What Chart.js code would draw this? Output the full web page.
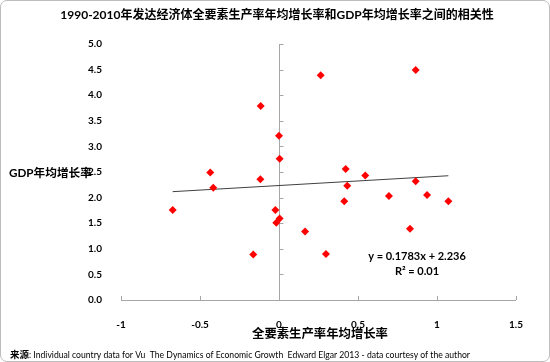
<!DOCTYPE html>
<html>
<head>
<meta charset="utf-8">
<script src="https://cdn.jsdelivr.net/npm/chart.js@4.4.1/dist/chart.umd.min.js"></script>
<style>
  body { margin: 0; background: #fff; }
  #wrap { position: relative; width: 550px; height: 362px; }
  #frame { position: absolute; left: 0; top: 0; width: 550px; height: 362px; box-sizing: border-box;
           border: 1px solid #bdbdbd; border-radius: 7px; pointer-events: none; }
</style>
</head>
<body>
<div id="wrap">
  <canvas id="myChart" width="550" height="362"></canvas>
  <div id="frame"></div>
</div>
<script>
// TFP growth (x) vs GDP growth (y), developed economies 1990-2010
var tfpGrowth = [-0.116, 0.0, 0.004, 0.264, 0.865, -0.673, -0.435, -0.416, -0.118, -0.023, -0.017, 0.004,
                 -0.163, 0.165, 0.297, 0.422, 0.432, 0.413, 0.546, 0.696, 0.865, 0.937, 1.072, 0.829];
var gdpGrowth = [3.79, 3.21, 2.76, 4.39, 4.49, 1.76, 2.49, 2.19, 2.36, 1.76, 1.51, 1.59,
                 0.89, 1.34, 0.90, 2.56, 2.23, 1.93, 2.43, 2.03, 2.32, 2.05, 1.93, 1.39];

// linear trend line end points
var trendX = [-0.673, 1.072];
var trendY = [2.116, 2.427];

var xTickLabels = ['-1', '-0.5', '0', '0.5', '1', '1.5'];
var yTickLabels = ['0.0', '0.5', '1.0', '1.5', '2.0', '2.5', '3.0', '3.5', '4.0', '4.5', '5.0'];

var titleText = '1990-2010年发达经济体全要素生产率年均增长率和GDP年均增长率之间的相关性';
var xTitle = '全要素生产率年均增长率';
var yTitle = 'GDP年均增长率';
var eqText = 'y = 0.1783x + 2.236';
var r2Text = 'R² = 0.01';
var sourceLead = '来源';
var sourceText = ': Individual country data for Vu  The Dynamics of Economic Growth  Edward Elgar 2013 - data courtesy of the author';

var fontFam = "Lato, 'Noto Sans CJK SC', sans-serif";
var axisGrey = '#a6a6a6';

var points = tfpGrowth.map(function(x, i) { return {x: x, y: gdpGrowth[i]}; });
var trend = trendX.map(function(x, i) { return {x: x, y: trendY[i]}; });

// set a font size so the text fills (at most) the given width
function fitFont(ctx, text, weight, size, width) {
    ctx.font = weight + ' ' + size + 'px ' + fontFam;
    var w = ctx.measureText(text).width;
    if (w > width) {
        size = size * width / w;
        ctx.font = weight + ' ' + size + 'px ' + fontFam;
    }
}

// draws axis lines (y axis crosses at x = 0) and all the free text
var decorPlugin = {
    id: 'decor',
    beforeDatasetsDraw: function(chart) {
        var ctx = chart.ctx;
        var xs = chart.scales.x, ys = chart.scales.y;
        var y0 = ys.getPixelForValue(0);
        var x0 = xs.getPixelForValue(0);
        ctx.save();
        ctx.strokeStyle = axisGrey;
        ctx.lineWidth = 1;
        ctx.beginPath();
        ctx.moveTo(xs.left, y0 + 0.5);
        ctx.lineTo(xs.right, y0 + 0.5);
        xs.ticks.forEach(function(t) {
            var px = Math.round(xs.getPixelForValue(t.value)) + 0.5;
            ctx.moveTo(px, y0);
            ctx.lineTo(px, y0 - 4);
        });
        var vx = Math.round(x0) + 0.5;
        ctx.moveTo(vx, y0);
        ctx.lineTo(vx, ys.top);
        ys.ticks.forEach(function(t) {
            var py = Math.round(ys.getPixelForValue(t.value)) + 0.5;
            ctx.moveTo(vx, py);
            ctx.lineTo(vx + 4, py);
        });
        ctx.stroke();
        ctx.restore();
    },
    afterDraw: function(chart) {
        var ctx = chart.ctx;
        ctx.save();
        ctx.fillStyle = '#000';
        ctx.textBaseline = 'middle';

        ctx.textAlign = 'center';
        fitFont(ctx, titleText, 'bold', 12, 435);
        ctx.fillText(titleText, 277, 15);

        fitFont(ctx, xTitle, 'bold', 12.5, 136);
        ctx.fillText(xTitle, 320, 334);

        ctx.textAlign = 'left';
        fitFont(ctx, yTitle, 'bold', 12, 83);
        ctx.fillText(yTitle, 9, 173);

        ctx.textAlign = 'center';
        fitFont(ctx, eqText, 'bold', 11, 99);
        ctx.fillText(eqText, 417, 256);
        ctx.font = 'bold 11px ' + fontFam;
        ctx.fillText(r2Text, 417, 271);

        ctx.textAlign = 'left';
        ctx.font = 'bold 9.5px ' + fontFam;
        ctx.fillText(sourceLead, 10, 355);
        var w = ctx.measureText(sourceLead).width;
        ctx.font = '9.5px ' + fontFam;
        ctx.fillText(sourceText, 10 + w, 355, 470 - 10 - w);
        ctx.restore();
    }
};

var ctx = document.getElementById('myChart').getContext('2d');
var chart = new Chart(ctx, {
    type: 'scatter',
    data: {
        datasets: [{
            label: 'GDP',
            data: points,
            pointStyle: 'rectRot',
            pointRadius: 4,
            pointHoverRadius: 4,
            backgroundColor: '#ff0000',
            borderColor: '#ff0000',
            borderWidth: 0
        }, {
            type: 'line',
            label: 'trend',
            data: trend,
            borderColor: '#404040',
            borderWidth: 1,
            pointRadius: 0,
            fill: false
        }]
    },
    options: {
        responsive: false,
        animation: false,
        events: [],
        layout: { padding: { left: 0, right: 34, top: 44, bottom: 0 } },
        plugins: {
            legend: { display: false },
            tooltip: { enabled: false }
        },
        scales: {
            x: {
                type: 'linear',
                min: -1,
                max: 1.5,
                afterFit: function(s) { s.height = 62; },
                grid: { display: false },
                border: { display: false },
                ticks: {
                    stepSize: 0.5,
                    padding: 11,
                    color: '#000',
                    font: { family: fontFam, size: 10, weight: 'bold' },
                    callback: function(v, i) { return xTickLabels[i]; }
                }
            },
            y: {
                min: 0,
                max: 5,
                afterFit: function(s) { s.width = 121; },
                grid: { display: false },
                border: { display: false },
                ticks: {
                    stepSize: 0.5,
                    padding: 11,
                    color: '#000',
                    font: { family: fontFam, size: 10, weight: 'bold' },
                    callback: function(v, i) { return yTickLabels[i]; }
                }
            }
        }
    },
    plugins: [decorPlugin]
});
</script>
</body>
</html>
